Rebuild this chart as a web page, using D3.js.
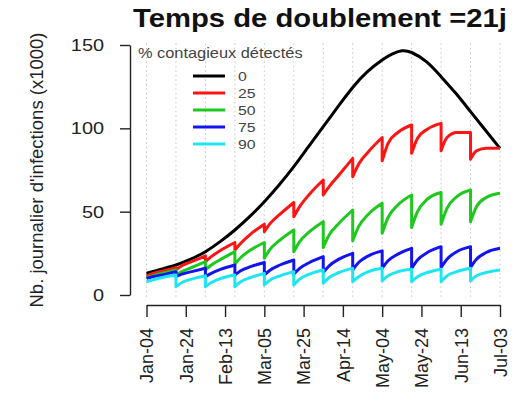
<!DOCTYPE html>
<html>
<head>
<meta charset="utf-8">
<script src="https://cdn.jsdelivr.net/npm/d3@7"></script>
<style>
  body { margin: 0; background: #fff; }
  text { font-family: "Liberation Sans", Arial, sans-serif; }
</style>
</head>
<body>
<div id="root"></div>
<script>
// --- data ---
const title = "Temps de doublement =21j";
const yTitle = "Nb. journalier d'infections (x1000)";
const legendTitle = "% contagieux détectés";
const seriesNames = ["0", "25", "50", "75", "90"];
const seriesColors = ["#000000", "#ff1414", "#1ec81e", "#1414f0", "#1ee6f0"];

// 0% detected: smooth epidemic curve (day, value x1000)
const blackDays = [0, 7.5, 15, 22.5, 30, 37.5, 45, 52.5, 60, 67.5, 75, 82.5, 90, 97.5,
  105, 112.5, 120, 125, 130, 135, 142.5, 150, 157.5, 165, 172.5, 180];
const blackValues = [13, 15.5, 18, 21.5, 26, 32, 39, 47, 56, 66, 77, 89, 101, 113,
  124.5, 134, 141, 144.5, 146.5, 145.5, 140, 131, 121, 110, 99, 88];

// other series: one row per 15-day period, values at day +0, +3, +8, +15
const segDays = [0, 15, 30, 45, 60, 75, 90, 105, 120, 135, 150, 165];
const segOffsets = [0, 3, 8, 15];
const red = [
  [11.5, 12.8, 14.3, 16.5], [15, 17.5, 20, 23.5], [20, 23, 27, 31.5], [27, 31, 36.5, 42.5],
  [38, 43, 48.5, 55.5], [47, 53, 60.5, 69], [60, 65, 72, 82], [71, 78.5, 86, 94.5],
  [80.5, 91, 97.5, 102], [85, 94, 99.5, 103], [86.5, 94.5, 97.5, 97.5], [81.5, 86.5, 88, 88]
];
const green = [
  [10.5, 11.5, 13, 15], [12, 14, 16.5, 20], [15, 18, 21.5, 26], [18.5, 22.5, 27, 31.5],
  [22, 27.5, 33, 39], [26, 32, 38, 44], [28.5, 36, 43, 51], [32.5, 41, 48.5, 55],
  [37, 46.5, 54, 60], [40.5, 50, 57.5, 61.5], [42.5, 52, 59, 63], [44, 53, 58.5, 61]
];
const blue = [
  [10, 11, 12, 14], [11, 12.5, 14, 16], [11, 13, 15.5, 18], [12, 14.5, 17, 19.5],
  [12, 15, 18, 21], [12.5, 16, 19.5, 23], [13.5, 17.5, 21.5, 25], [15, 19.5, 23.5, 26.5],
  [16, 20.5, 24.5, 28], [16, 21, 25.5, 29], [16.5, 21.5, 26, 29], [16.5, 21.5, 25.5, 28]
];
const cyan = [
  [8, 9, 10.5, 12], [5, 7.5, 9.5, 11.5], [5, 7.5, 10, 12], [5, 8, 10.5, 13],
  [6, 9, 11.5, 14], [6, 9.5, 12.5, 15], [7, 10.5, 13.5, 16], [8, 11, 14, 16],
  [8.5, 11.5, 14, 15.5], [8, 11, 13.5, 15.5], [8, 11.5, 14, 16], [8.5, 11.5, 13.5, 15]
];

const xTickDays = [0, 20, 40, 60, 80, 100, 120, 140, 160, 180];
const gridDays = [0, 15, 30, 45, 60, 75, 90, 105, 120, 135, 150, 165, 180];
const yTicks = [0, 50, 100, 150];

// --- layout ---
const width = 531;
const height = 394;
const stretch = 1.17; // the reference text is slightly wide
const start = Date.UTC(2019, 0, 4);
const toDate = t => new Date(start + t * 864e5);

const svg = d3.select("#root")
  .append("svg")
    .attr("width", width)
    .attr("height", height);

const x = d3.scaleUtc()
  .domain([toDate(0), toDate(180)])
  .range([146.5, 500]);

const y = d3.scaleLinear()
  .domain([0, 150])
  .range([295, 45]);

// dotted vertical grid
svg.append("g")
  .selectAll("line")
  .data(gridDays)
  .join("line")
    .attr("x1", d => x(toDate(d)))
    .attr("x2", d => x(toDate(d)))
    .attr("y1", y(151))
    .attr("y2", y(-2))
    .attr("stroke", "#c4c4c4")
    .attr("stroke-width", 1)
    .attr("stroke-dasharray", "1.5,3");

// lines
const lineGen = d3.line()
  .x(d => x(toDate(d[0])))
  .y(d => y(d[1]))
  .curve(d3.curveMonotoneX);

const smoothGen = d3.line()
  .x(d => x(toDate(d[0])))
  .y(d => y(d[1]))
  .curve(d3.curveNatural);

const sawPath = rows => rows.map((row, k) => {
  const p = lineGen(segOffsets.map((o, j) => [segDays[k] + o, row[j]]));
  return k ? "L" + p.slice(1) : p;
}).join("");

const paths = [
  smoothGen(blackDays.map((d, i) => [d, blackValues[i]])),
  sawPath(red), sawPath(green), sawPath(blue), sawPath(cyan)
];

svg.append("g")
  .selectAll("path")
  .data(paths)
  .join("path")
    .attr("d", d => d)
    .attr("fill", "none")
    .attr("stroke", (d, i) => seriesColors[i])
    .attr("stroke-width", 3)
    .attr("stroke-linejoin", "round");

// axes
const yAxis = svg.append("g")
  .attr("transform", "translate(130,0)")
  .call(d3.axisLeft(y).tickValues(yTicks).tickSize(10).tickPadding(16).tickSizeOuter(0));
yAxis.selectAll("text")
  .attr("font-size", 17)
  .attr("fill", "#222")
  .attr("x", -26 / stretch)
  .attr("transform", `scale(${stretch},1)`);

const xAxis = svg.append("g")
  .attr("transform", "translate(0,305)")
  .call(d3.axisBottom(x)
    .tickValues(xTickDays.map(toDate))
    .tickFormat(d3.utcFormat("%b-%d"))
    .tickSize(12)
    .tickSizeOuter(0));
xAxis.selectAll("text")
  .attr("font-size", 18)
  .attr("fill", "#222")
  .attr("transform", "rotate(-90)")
  .attr("text-anchor", "end")
  .attr("x", -23)
  .attr("y", 0)
  .attr("dy", "0.35em");

svg.selectAll(".domain, .tick line")
  .attr("stroke", "#222")
  .attr("stroke-width", 1.4);

// titles
svg.append("text")
  .text(title)
  .attr("transform", `translate(320,27) scale(${stretch},1)`)
  .attr("text-anchor", "middle")
  .attr("font-size", 25)
  .attr("font-weight", "bold")
  .attr("fill", "#111");

svg.append("text")
  .text(yTitle)
  .attr("transform", "translate(36,170) rotate(-90)")
  .attr("text-anchor", "middle")
  .attr("dominant-baseline", "central")
  .attr("font-size", 18.5)
  .attr("fill", "#222");

// legend
const legend = svg.append("g");
legend.append("text")
  .text(legendTitle)
  .attr("transform", `translate(138,58) scale(${stretch},1)`)
  .attr("font-size", 14)
  .attr("fill", "#444");

const rows = legend.selectAll("g.row")
  .data(seriesNames)
  .join("g")
    .attr("class", "row")
    .attr("transform", (d, i) => `translate(0,${76 + i * 17})`);
rows.append("line")
  .attr("x1", 193)
  .attr("x2", 225)
  .attr("stroke", (d, i) => seriesColors[i])
  .attr("stroke-width", 3);
rows.append("text")
  .text(d => d)
  .attr("transform", `translate(238,0) scale(${stretch},1)`)
  .attr("dominant-baseline", "central")
  .attr("font-size", 13.5)
  .attr("fill", "#444");
</script>
</body>
</html>
